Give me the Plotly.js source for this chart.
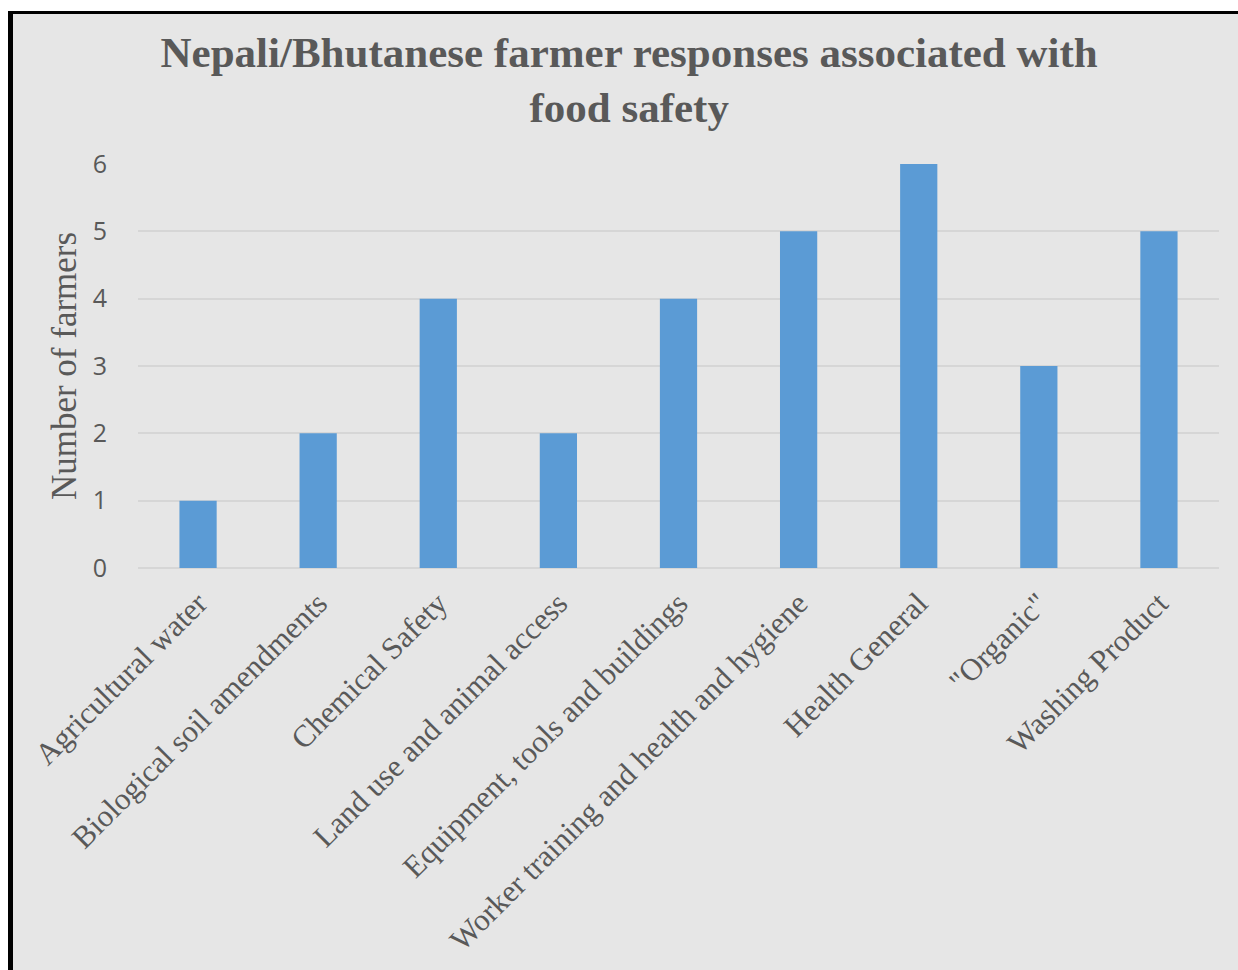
<!DOCTYPE html>
<html>
<head>
<meta charset="utf-8">
<script src="https://cdn.plot.ly/plotly-3.0.1.min.js"></script>
<style>
  html, body { margin: 0; padding: 0; background: #ffffff; width: 1238px; height: 970px; overflow: hidden; }
  #frame {
    position: absolute; left: 8px; top: 11px;
    width: 1225px; height: 956px;
    border-left: 5px solid #000000; border-top: 3px solid #000000;
    background: #e6e6e6;
  }
  #chart { width: 1225px; height: 956px; }
</style>
</head>
<body>
<div id="frame"><div id="chart"></div></div>
<script>
// Food safety topics raised by farmers
const categories = [
  "Agricultural water",
  "Biological soil amendments",
  "Chemical Safety",
  "Land use and animal access",
  "Equipment, tools and buildings",
  "Worker training and health and hygiene",
  "Health General",
  "\"Organic\"",
  "Washing Product"
];
const farmerCounts = [1, 2, 4, 2, 4, 5, 6, 3, 5];
const yTicks = [0, 1, 2, 3, 4, 5, 6];

const serif = "'Liberation Serif', 'DejaVu Serif', serif";
const sans = "'Open Sans', 'Liberation Sans', sans-serif";
const textGrey = "#595959";

const trace = {
  type: "bar",
  x: categories,
  y: farmerCounts,
  marker: { color: "#5b9bd5", line: { width: 0 } },
  hoverinfo: "x+y"
};

const layout = {
  width: 1225,
  height: 956,
  paper_bgcolor: "#e6e6e6",
  plot_bgcolor: "#e6e6e6",
  margin: { l: 125, r: 19, t: 150, b: 402 },
  bargap: 0.69,
  showlegend: false,
  title: {
    text: "<b>Nepali/Bhutanese farmer responses associated with<br>food safety</b>",
    font: { family: serif, size: 43, color: textGrey },
    x: 0.503, xanchor: "center",
    y: 0.945, yanchor: "top"
  },
  xaxis: {
    tickangle: -45,
    tickfont: { family: serif, size: 31, color: textGrey },
    ticklabelstandoff: 10,
    showgrid: false,
    showline: false,
    ticks: "",
    automargin: false
  },
  yaxis: {
    range: [0, 6],
    tickvals: yTicks,
    tickfont: { family: sans, size: 25, color: textGrey },
    showgrid: true,
    gridcolor: "#d6d6d6",
    gridwidth: 2,
    zeroline: true,
    zerolinecolor: "#d6d6d6",
    zerolinewidth: 2,
    showline: false,
    ticks: "",
    ticklabelstandoff: 30,
    automargin: false,
    title: {
      text: "Number of farmers",
      font: { family: serif, size: 35, color: textGrey },
      standoff: 5
    }
  }
};

Plotly.newPlot("chart", [trace], layout, { displayModeBar: false, staticPlot: true });
</script>
</body>
</html>
